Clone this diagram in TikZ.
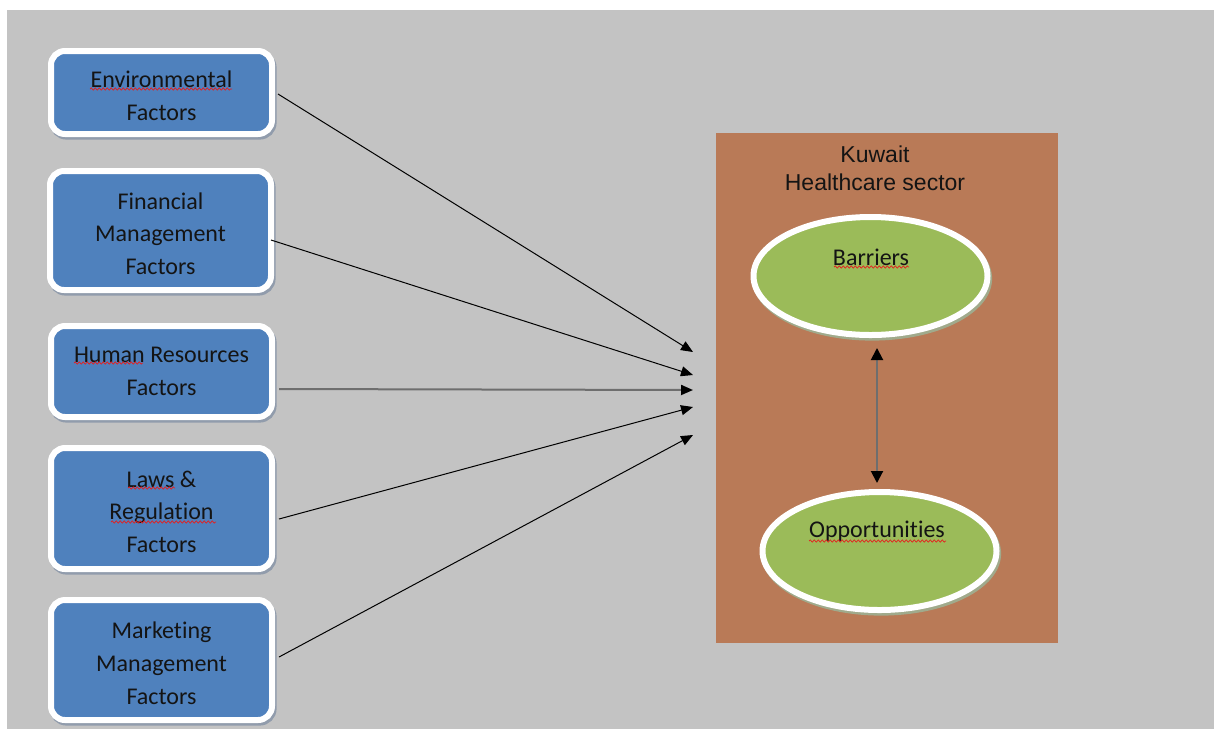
\documentclass[tikz,border=0pt]{standalone}
\usepackage{fontspec}
\setmainfont{Carlito}[Ligatures=NoCommon]
\newfontfamily\arialf{Liberation Sans}
\usetikzlibrary{arrows.meta,calc,decorations.pathmorphing,shadows,shapes.geometric}
\definecolor{bgc}{RGB}{195,195,195}
\definecolor{boxblue}{RGB}{79,129,189}
\definecolor{brownc}{RGB}{185,122,87}
\definecolor{greenc}{RGB}{155,187,89}
\definecolor{shadowc}{RGB}{145,156,172}
\definecolor{eshadowc}{RGB}{160,170,140}
\definecolor{txtc}{RGB}{20,20,20}
\definecolor{midgray}{RGB}{110,110,110}
\definecolor{wavered}{RGB}{230,30,30}
\newcommand\tstrut{\rule{0pt}{11.5pt}}
\begin{document}
\begin{tikzpicture}[x=0.5pt,y=-0.5pt,
  factor/.style={draw=white, line width=3pt, fill=boxblue, rounded corners=7pt,
    minimum width=110.5pt, align=center, inner sep=0pt, text=txtc,
    font=\fontsize{12}{16.3}\selectfont,
    drop shadow={shadow xshift=0.8pt, shadow yshift=-1.3pt, fill=shadowc, draw=shadowc, line width=3pt, opacity=1}},
  oval/.style={ellipse, draw=white, line width=3pt, fill=greenc, inner sep=0pt,
    minimum width=117pt, minimum height=59pt,
    drop shadow={shadow xshift=0.8pt, shadow yshift=-1.3pt, fill=eshadowc, draw=eshadowc, line width=3pt, opacity=1}},
  lbl/.style={inner sep=0pt, text=txtc, font=\fontsize{12}{14}\selectfont},
  arr/.style={-{Triangle[length=6pt,width=5pt]}, line width=0.5pt, black},
  grayarr/.style={-{Triangle[length=6pt,width=5pt,color=black]}, line width=1pt, midgray},
  dblarr/.style={{Triangle[length=6pt,width=6pt,color=black]}-{Triangle[length=6pt,width=6pt,color=black]}, line width=1pt, midgray},
  squig/.style={wavered, line width=0.35pt, decorate, decoration={snake, amplitude=0.55pt, segment length=2pt}}
]
\useasboundingbox (0,0) rectangle (1214,729);
\fill[white] (0,0) rectangle (1214,729);
\fill[bgc] (7,10) rectangle (1214,729);

% factor boxes
\node[factor, minimum height=41.5pt] (b1) at (161.5,92.5) {\tstrut Environmental\\Factors};
\node[factor, minimum height=59.5pt] (b2) at (160.5,230.5) {\tstrut Financial\\Management\\Factors};
\node[factor, minimum height=45.5pt] (b3) at (161.5,371.5) {Human Resources\\Factors};
\node[factor, minimum height=60.5pt] (b4) at (161.5,508.5) {\tstrut Laws \&\\Regulation\\Factors};
\node[factor, minimum height=60pt] (b5) at (161.5,660) {\tstrut Marketing\\Management\\Factors};

% sector box
\node[fill=brownc, inner sep=0pt, minimum width=171pt, minimum height=255pt] (hc) at (887,388) {};
\node[inner sep=0pt, text=txtc, align=center, font=\arialf\fontsize{11.5}{14}\selectfont] (kw) at (875,168) {Kuwait\\Healthcare sector};

\node[oval] (bar) at (870.5,276) {};
\node[oval] (opp) at (879.5,551) {};
\node[lbl] (bart) at (871,257) {Barriers};
\node[lbl] (oppt) at (877,531) {Opportunities};

% arrow tips
\coordinate (t1) at (693,352);
\coordinate (t2) at (693,375);
\coordinate (t3) at (693,390);
\coordinate (t4) at (693,407);
\coordinate (t5) at (693,435);

\draw[arr] ($(b1.east)+(3,1.5)$) -- (t1);
\draw[arr] ($(b2.east)+(-3,9.5)$) -- (t2);
\draw[grayarr] ($(b3.east)+(4,17.5)$) -- (t3);
\draw[arr] ($(b4.east)+(4,10.5)$) -- (t4);
\draw[arr] ($(b5.east)+(4,-3)$) -- (t5);

\draw[dblarr] ($(bar.south)+(6.5,10)$) -- ($(opp.north)+(-2.5,-6)$);

% spell-check squiggles
\draw[squig] (90,89) -- (232,89);
\draw[squig] (74,363) -- (143,363);
\draw[squig] (128,488) -- (175,488);
\draw[squig] (111,522) -- (216,522);
\draw[squig] (834,267) -- (909,267);
\draw[squig] (809,541) -- (946,541);
\end{tikzpicture}
\end{document}
